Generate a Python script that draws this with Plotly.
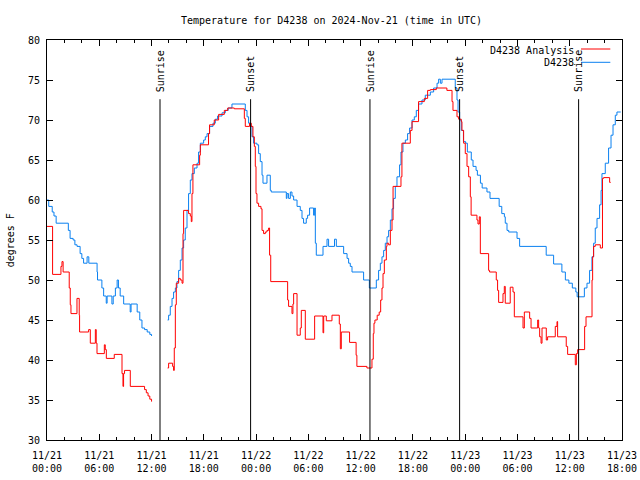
import pandas as pd
import plotly.graph_objects as go

START = pd.Timestamp("2024-11-21 00:00")

# hours since 2024-11-21 00:00 UTC ; None marks the data gap
blue_hours = [0.0, 0.2, 0.6, 0.8, 1.05, 2.45, 2.65, 3.0, 3.2, 3.45, 3.8, 4.0, 4.2, 4.6, 4.8,
              5.75, 5.8, 6.3, 6.5, 6.8, 6.9, 7.45, 7.6, 7.85, 8.05, 8.2, 8.4, 8.8, 9.55, 9.65,
              10.35, 10.65, 10.9, 11.2, 11.5, 11.8, 12.0,
              13.0,
              13.84, 13.96, 14.15, 14.35, 14.53, 14.73, 14.92, 15.11, 15.3, 15.5, 15.68, 15.87,
              16.07, 16.25, 16.45, 16.64, 16.91, 17.22, 17.4, 17.6, 17.98, 18.17, 18.37, 18.66,
              19.05, 19.32, 19.58, 20.09, 20.47, 20.8, 21.23, 22.76, 22.96, 23.14, 23.33, 23.53,
              23.71, 24.1, 24.29, 24.48, 24.68, 24.79, 25.25, 25.63, 25.74, 27.47, 27.55, 27.73,
              27.93, 28.12, 28.31, 28.7, 29.07, 29.27, 29.45, 29.76, 29.91, 30.14, 30.6, 30.72,
              30.8, 30.91, 31.68, 32.14, 32.32, 33.0, 33.21, 34.05, 34.44, 34.62, 34.81, 35.01,
              36.34, 37.0, 37.8, 38.06, 38.26, 38.45, 38.64, 38.83, 39.03, 39.21, 39.41, 39.6,
              39.78, 39.98, 40.17, 40.47, 40.63, 40.86, 41.13, 41.39, 41.62, 41.9, 42.16, 42.39,
              42.65, 43.04, 43.42, 44.0, 44.38, 44.77, 44.95, 45.15, 45.34, 46.86, 47.06, 47.18,
              47.36, 47.55, 47.8, 48.05, 48.25, 48.7, 48.9, 49.25, 49.4, 49.75, 49.95, 50.5,
              50.85, 51.9, 52.2, 52.5, 52.6, 52.8, 53.0, 53.95, 54.25, 57.3, 58.15, 59.1, 59.5,
              59.9, 60.3, 60.7, 60.85, 61.68, 61.98, 62.28, 62.55, 62.74, 62.93, 63.13, 63.43,
              63.6, 63.7, 64.08, 64.46, 64.74, 64.97, 65.23, 65.42, 65.85]
blue_temps = [60.0, 59.2, 58.5, 58.0, 57.1, 56.2, 55.2, 55.0, 54.4, 54.2, 53.3, 52.7, 52.1, 52.9, 52.1,
              51.0, 50.0, 49.0, 48.0, 47.1, 48.0, 47.0, 48.0, 49.0, 50.0, 49.0, 48.0, 47.0, 46.0, 47.0,
              46.0, 45.0, 44.0, 43.8, 43.5, 43.2, 43.0,
              None,
              45.0, 45.6, 46.7, 47.7, 48.5, 49.0, 49.8, 51.2, 52.5, 54.0, 55.0, 56.5,
              58.7, 60.8, 62.5, 63.3, 64.0, 64.6, 66.0, 67.1, 67.5, 67.9, 68.3, 69.2,
              69.6, 70.1, 70.5, 70.9, 71.2, 71.5, 72.0, 71.2, 70.4, 69.6, 69.2, 67.9,
              67.1, 66.9, 65.8, 64.8, 63.1, 62.1, 63.1, 61.2, 61.0, 60.2, 60.8, 60.2,
              61.0, 60.5, 60.0, 59.2, 58.7, 57.7, 57.1, 57.7, 58.1, 59.0, 58.1, 59.0,
              54.6, 53.1, 54.2, 55.1, 54.2, 55.1, 54.2, 53.3, 52.7, 52.1, 51.7, 51.0,
              50.0, 49.0, 50.0, 51.2, 52.1, 52.9, 53.7, 54.6, 55.4, 56.2, 57.5, 58.9,
              60.2, 61.7, 62.9, 64.4, 66.0, 67.1, 67.5, 68.3, 69.0, 70.0, 70.4, 71.2,
              72.0, 72.5, 73.1, 73.5, 74.0, 74.6, 75.1, 74.6, 75.1, 74.0, 72.5, 71.0,
              70.0, 68.7, 67.3, 67.1, 66.0, 65.0, 64.2, 63.7, 63.1, 62.1, 61.5, 61.0,
              60.2, 59.2, 58.3, 57.9, 57.1, 56.2, 56.0, 55.2, 54.2, 53.1, 52.0, 51.0, 50.0,
              49.6, 49.0, 48.5, 47.9, 49.0, 49.6, 51.2, 52.9, 54.6, 56.5, 57.7, 59.4,
              61.2, 63.3, 64.6, 66.5, 68.1, 69.4, 70.6, 71.0, 71.0]

red_hours = [0.0, 0.64, 1.6, 1.72, 1.85, 2.55, 2.67, 2.75, 3.44, 3.7, 3.74, 4.78, 4.97, 5.55, 5.65,
             5.74, 6.58, 6.69, 6.81, 7.72, 8.61, 8.72, 8.79, 8.9, 9.56, 11.2, 11.4, 11.6, 11.8, 12.0,
             13.0,
             13.84, 13.96, 14.42, 14.53, 14.61, 14.73, 14.84, 15.11, 15.3, 15.5, 15.61, 15.68,
             16.25, 16.45, 16.56, 16.64, 16.75, 17.52, 17.6, 18.54, 18.66, 19.2, 19.7, 20.35,
             20.74, 21.5, 22.65, 22.76, 23.25, 23.45, 23.64, 23.8, 23.91, 23.99, 24.1, 24.29,
             24.56, 24.68, 24.86, 25.06, 25.25, 25.44, 25.55, 25.68, 27.62, 27.73, 28.12, 28.23,
             28.31, 28.7, 29.07, 29.19, 29.65, 30.72, 31.68, 31.76, 32.06, 32.71, 33.55, 33.67,
             33.78, 34.73, 35.48, 35.57, 36.72, 37.3, 37.45, 37.53, 37.64, 37.9, 38.13, 38.3,
             38.45, 38.57, 38.72, 38.95, 39.03, 39.21, 39.41, 39.6, 39.72, 40.63, 40.74, 41.7,
             41.9, 42.65, 43.31, 43.69, 44.0, 44.69, 45.9, 46.49, 46.6, 47.06, 47.25, 47.55,
             47.63, 47.82, 48.01, 48.21, 48.4, 48.59, 48.68, 49.35, 49.47, 49.62, 49.74, 50.69,
             50.8, 51.57, 51.72, 51.84, 52.34, 52.49, 52.6, 53.17, 53.49, 53.64, 54.64, 54.79,
             55.4, 55.56, 56.32, 56.43, 56.55, 56.71, 56.82, 57.31, 57.46, 58.34, 58.54, 58.61,
             59.6, 59.76, 60.64, 60.76, 60.91, 61.71, 61.87, 62.56, 62.63, 62.74, 62.93, 63.51,
             63.76, 63.89, 64.58, 64.7]
red_temps = [56.7, 50.7, 51.7, 52.3, 51.0, 49.0, 46.9, 45.8, 47.7, 45.6, 43.5, 43.8, 42.1, 43.8, 42.1,
             40.8, 41.9, 41.3, 40.2, 40.7, 38.3, 36.7, 38.3, 38.7, 36.7, 36.3, 35.9, 35.5, 35.1, 34.8,
             None,
             39.0, 39.6, 39.2, 38.7, 41.5, 46.9, 49.6, 50.2, 50.0, 49.6, 55.8, 58.7,
             58.3, 58.0, 57.3, 60.8, 64.4, 65.6, 66.9, 68.3, 69.4, 70.0, 70.7, 71.2,
             71.5, 71.4, 70.2, 69.2, 69.6, 69.2, 67.9, 66.7, 64.2, 60.8, 59.6, 59.2,
             58.9, 56.2, 55.8, 56.0, 56.2, 56.5, 53.1, 49.8, 47.5, 46.7, 45.8, 47.0,
             48.3, 43.1, 44.0, 46.2, 42.6, 45.5, 43.4, 45.5, 44.9, 45.6, 44.5, 41.4,
             43.5, 42.2, 40.6, 39.2, 39.0, 40.1, 43.3, 44.6, 45.0, 45.6, 46.0, 47.5,
             49.0, 50.8, 52.5, 54.2, 54.6, 54.4, 56.2, 57.5, 61.7, 62.9, 67.1, 68.7,
             69.8, 72.3, 72.7, 73.7, 73.8, 74.0, 73.7, 72.3, 71.2, 70.4, 70.1, 69.8,
             68.7, 67.1, 65.8, 64.2, 62.9, 60.4, 58.1, 57.5, 57.0, 57.9, 53.3, 51.2,
             51.0, 50.0, 48.7, 47.2, 48.3, 49.2, 47.1, 49.1, 48.5, 45.4, 44.0, 46.0,
             45.2, 44.0, 45.0, 44.0, 42.9, 42.1, 44.0, 42.5, 42.9, 44.2, 44.8, 42.9,
             41.7, 40.7, 39.4, 40.8, 41.3, 44.2, 45.4, 50.0, 52.9, 54.2, 54.4, 54.0,
             62.7, 62.8, 62.2, 62.2]

sun_hours = [12.97, 23.37, 37.07, 47.36, 61.02]
sun_labels = ["Sunrise", "Sunset", "Sunrise", "Sunset", "Sunrise"]
sun_line_top = 72.6
sun_label_bottom = 73.46

y_ticks = list(range(30, 81, 5))
x_tick_hours = list(range(0, 67, 6))

assert len(blue_hours) == len(blue_temps)
assert len(red_hours) == len(red_temps)


def to_time(hours):
    return [START + pd.Timedelta(hours=h) for h in hours]


FONT = "DejaVu Sans Mono"
RED = "#ff0000"
BLUE = "#0a80f0"

fig = go.Figure()
fig.add_trace(go.Scatter(x=to_time(blue_hours), y=blue_temps, mode="lines",
                         line=dict(color=BLUE, width=1, shape="hv"),
                         connectgaps=False, name="D4238", showlegend=False))
fig.add_trace(go.Scatter(x=to_time(red_hours), y=red_temps, mode="lines",
                         line=dict(color=RED, width=1, shape="hv"),
                         connectgaps=False, name="D4238 Analysis", showlegend=False))

shapes = []
annotations = []
for h, lab in zip(sun_hours, sun_labels):
    t = START + pd.Timedelta(hours=h)
    shapes.append(dict(type="line", xref="x", yref="y", x0=t, x1=t, y0=30, y1=sun_line_top,
                       line=dict(color="black", width=1)))
    center = sun_label_bottom + len(lab) * 6.0 / 2 / 8
    annotations.append(dict(x=t, y=center, xref="x", yref="y", text=lab, textangle=-90,
                            showarrow=False, xanchor="center", yanchor="middle",
                            font=dict(family=FONT, size=10, color="black")))

# legend (gnuplot style: text then sample line)
legend_items = [("D4238 Analysis", RED, 0.97375, 0.9775), ("D4238", BLUE, 0.94375, 0.94425)]
for text, col, ty, ly in legend_items:
    annotations.append(dict(x=0.9205, y=ty, xref="paper", yref="paper", text=text,
                            showarrow=False, xanchor="right", yanchor="middle",
                            font=dict(family=FONT, size=10, color="black")))
    shapes.append(dict(type="line", xref="paper", yref="paper", x0=0.9287, x1=0.9797,
                       y0=ly, y1=ly, line=dict(color=col, width=1)))

annotations.append(dict(x=-0.0638, y=0.5, xref="paper", yref="paper", text="degrees F",
                        textangle=-90, showarrow=False, xanchor="center", yanchor="middle",
                        font=dict(family=FONT, size=10, color="black")))

tick_times = to_time(x_tick_hours)
tick_text = [t.strftime("%m/%d") + "<br>" + t.strftime("%H:%M") for t in tick_times]

fig.update_layout(
    width=640, height=480, autosize=False,
    margin=dict(l=47, r=18, t=40, b=40, autoexpand=False),
    paper_bgcolor="white", plot_bgcolor="white",
    title=dict(text="Temperature for D4238 on 2024-Nov-21 (time in UTC)",
               x=0.518, xref="container", xanchor="center",
               y=0.958, yref="container", yanchor="middle",
               font=dict(family=FONT, size=10, color="black")),
    shapes=shapes, annotations=annotations,
    font=dict(family=FONT, size=10, color="black"),
)
fig.update_xaxes(
    type="date", range=[START, START + pd.Timedelta(hours=66)],
    tickvals=tick_times, ticktext=tick_text, automargin=False,
    ticks="inside", ticklen=6, tickcolor="black", tickwidth=1,
    showline=True, linecolor="black", linewidth=1, mirror="ticks",
    showgrid=False, zeroline=False, ticklabelstandoff=6,
    tickfont=dict(family=FONT, size=10, color="black"),
    minor=dict(ticks="inside", ticklen=3, tickcolor="black", dtick=2 * 3600 * 1000,
               tick0=START, showgrid=False),
)
fig.update_yaxes(
    range=[30, 80], tickvals=y_ticks, ticktext=[str(v) for v in y_ticks],
    ticks="inside", ticklen=6, tickcolor="black", tickwidth=1, automargin=False,
    showline=True, linecolor="black", linewidth=1, mirror="ticks",
    showgrid=False, zeroline=False, ticklabelstandoff=4,
    tickfont=dict(family=FONT, size=10, color="black"),
)

fig.write_html("out.html", config={"displayModeBar": False},
               post_script="document.body.style.margin='0';")
